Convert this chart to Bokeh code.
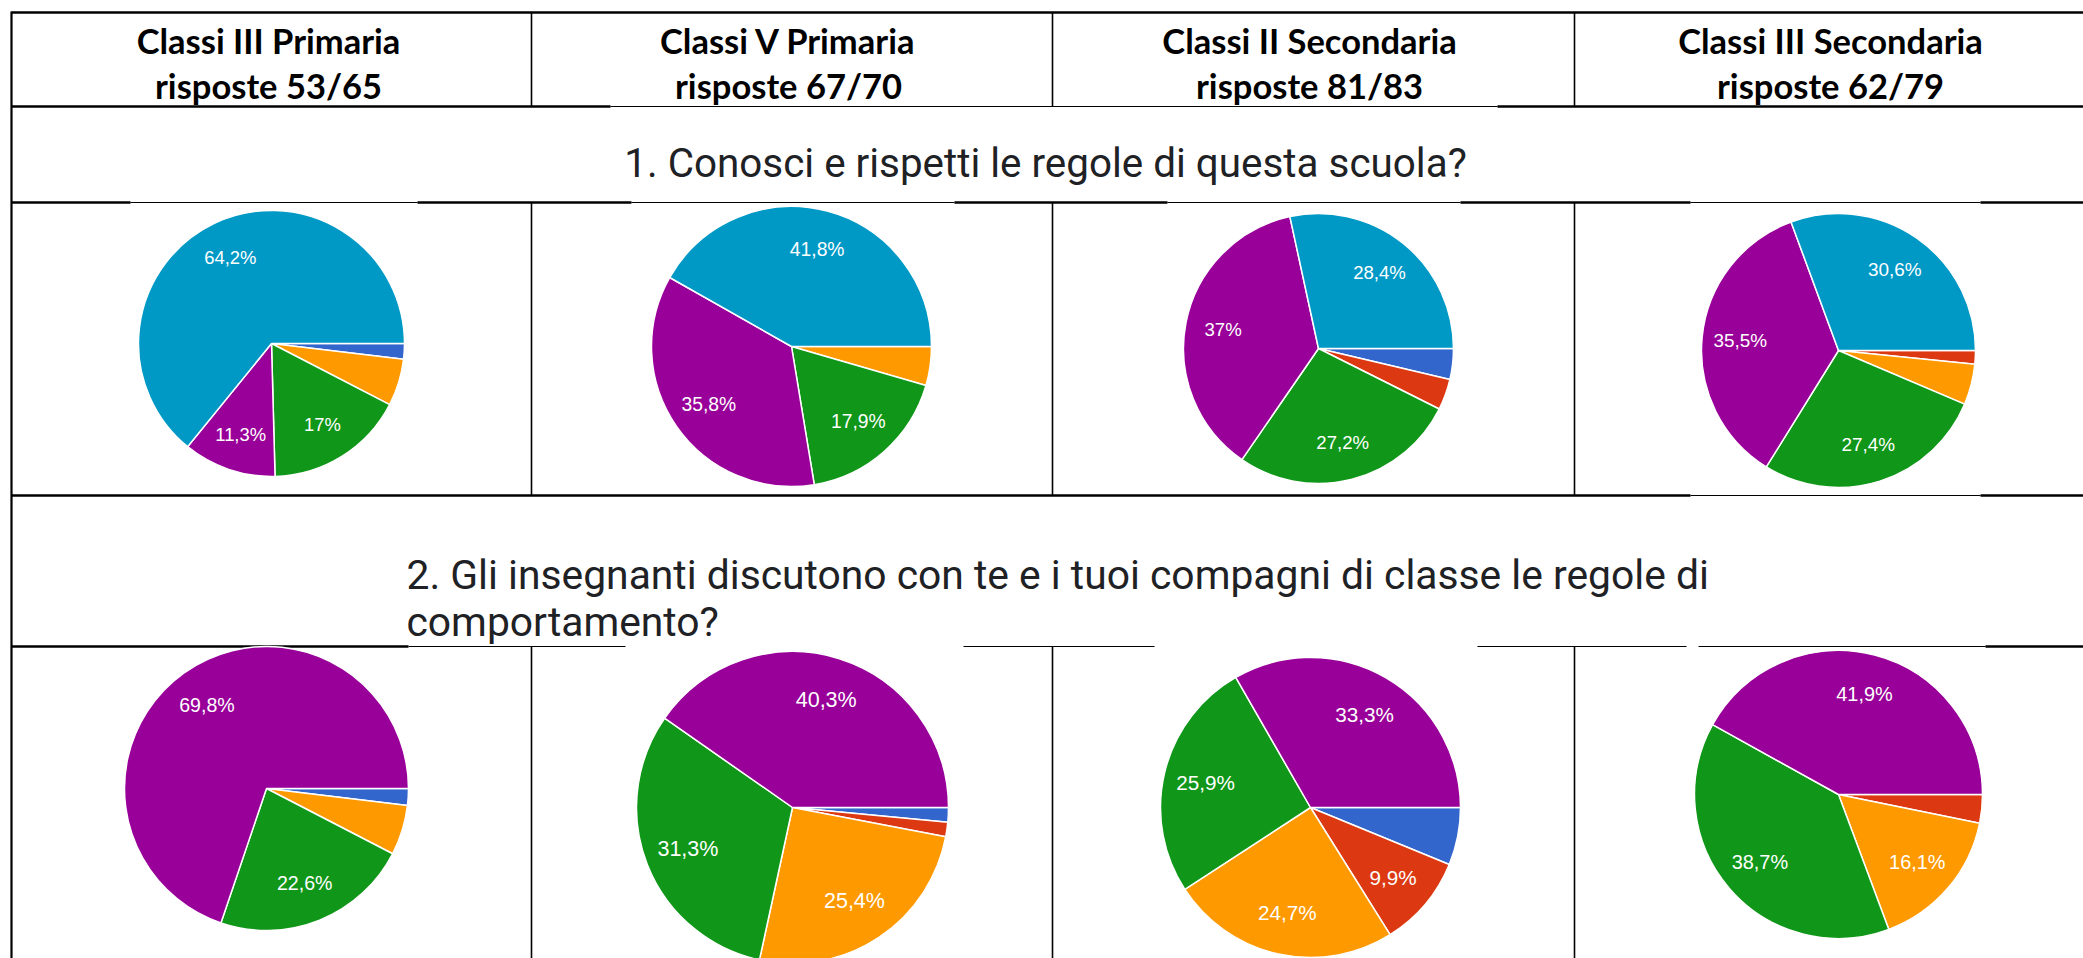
import math
from bokeh.plotting import figure
from bokeh.models import Range1d, ColumnDataSource
from bokeh.embed import file_html
from bokeh.resources import INLINE
from bokeh.core.properties import value

# ---------------- data ----------------
header_line1 = ["Classi III Primaria", "Classi V Primaria", "Classi II Secondaria", "Classi III Secondaria"]
header_line2 = ["risposte 53/65", "risposte 67/70", "risposte 81/83", "risposte 62/79"]
question1 = "1. Conosci e rispetti le regole di questa scuola?"
question2_lines = ["2. Gli insegnanti discutono con te e i tuoi compagni di classe le regole di",
                   "comportamento?"]

colors_q1 = ["#3366cc", "#dc3912", "#ff9900", "#109618", "#990099", "#0099c6"]
colors_q2 = ["#3366cc", "#dc3912", "#ff9900", "#109618", "#990099"]

# percentages, slice order: blue, red, orange, green, purple, teal
q1_iii_primaria = [1.9, 0, 5.7, 17, 11.3, 64.2]
q1_v_primaria = [0, 0, 4.5, 17.9, 35.8, 41.8]
q1_ii_secondaria = [3.7, 3.7, 0, 27.2, 37, 28.4]
q1_iii_secondaria = [0, 1.6, 4.8, 27.4, 35.5, 30.6]

# percentages, slice order: blue, red, orange, green, purple
q2_iii_primaria = [1.9, 0, 5.7, 22.6, 69.8]
q2_v_primaria = [1.5, 1.5, 25.4, 31.3, 40.3]
q2_ii_secondaria = [6.2, 9.9, 24.7, 25.9, 33.3]
q2_iii_secondaria = [0, 3.2, 16.1, 38.7, 41.9]

LABEL_MIN = 8.0  # slices smaller than this get no label

# ---------------- layout (screen pixels) ----------------
W, H = 2083, 958
def Y(sy):
    return H - sy

p = figure(width=W, height=H, output_backend="svg", toolbar_location=None,
           x_range=Range1d(0, W), y_range=Range1d(0, H),
           x_axis_location=None, y_axis_location=None, min_border=0)
p.outline_line_color = None
p.grid.visible = False
p.background_fill_color = "white"
p.border_fill_color = "white"

THICK, THIN = 2.6, 1.2
h_segs = [
    (12, 11, 2090, THICK),
    (106, 11, 610, THICK), (106, 610, 1497, THIN), (106, 1497, 2090, THICK),
    (202, 11, 130, THICK), (202, 130, 417, THIN), (202, 417, 631, THICK), (202, 631, 954, THIN),
    (202, 954, 1167, THICK), (202, 1167, 1460, THIN), (202, 1460, 1690, THICK), (202, 1690, 1980, THIN),
    (202, 1980, 2090, THICK),
    (495, 11, 1690, THICK), (495, 1690, 1980, THIN), (495, 1980, 2090, THICK),
    (646, 11, 408, THICK), (646, 408, 625, THIN), (646, 963, 1154, THIN), (646, 1477, 1686, THIN),
    (646, 1698, 1985, THIN), (646, 1985, 2090, THICK),
]
seg = dict(x0=[], y0=[], x1=[], y1=[], w=[])
for yy, xa, xb, w in h_segs:
    seg["x0"].append(xa); seg["x1"].append(xb)
    seg["y0"].append(Y(yy)); seg["y1"].append(Y(yy)); seg["w"].append(w)
# left border
seg["x0"].append(11); seg["x1"].append(11); seg["y0"].append(Y(11)); seg["y1"].append(Y(965)); seg["w"].append(2.2)
for xd in [531, 1052, 1574]:
    for ya, yb in [(12, 106), (202, 495), (646, 965)]:
        seg["x0"].append(xd); seg["x1"].append(xd)
        seg["y0"].append(Y(ya)); seg["y1"].append(Y(yb)); seg["w"].append(1.6)
p.segment(x0="x0", y0="y0", x1="x1", y1="y1", line_width="w", line_color="black",
          source=ColumnDataSource(seg))

# headers
hx = [268, 788, 1309, 1830]
p.text(x=hx, y=[Y(40)] * 4, text=header_line1, text_align="center", text_baseline="alphabetic",
       text_font=value("Lato"), text_font_style="bold", text_font_size="34.5px", text_color="black")
p.text(x=hx, y=[Y(85)] * 4, text=header_line2, text_align="center", text_baseline="alphabetic",
       text_font=value("Lato"), text_font_style="bold", text_font_size="34.5px", text_color="black")

# questions
p.text(x=[1045], y=[Y(163)], text=[question1], text_align="center", text_baseline="alphabetic",
       text_font=value("Roboto"), text_font_size="40.4px", text_color="#202124")
p.text(x=[406, 406], y=[Y(574), Y(621)], text=question2_lines, text_align="left",
       text_baseline="alphabetic", text_font=value("Roboto"), text_font_size="40.8px",
       text_color="#202124")

# pies
pies = [
    (q1_iii_primaria, colors_q1, 271, 343, 133),
    (q1_v_primaria, colors_q1, 791, 346, 140),
    (q1_ii_secondaria, colors_q1, 1318, 348, 135),
    (q1_iii_secondaria, colors_q1, 1838, 350, 137),
    (q2_iii_primaria, colors_q2, 266, 788, 142),
    (q2_v_primaria, colors_q2, 792, 807, 156),
    (q2_ii_secondaria, colors_q2, 1310, 807, 150),
    (q2_iii_secondaria, colors_q2, 1838, 794, 144),
]

def fmt(v):
    if abs(v - round(v)) < 1e-9:
        return "%d%%" % round(v)
    return ("%.1f%%" % v).replace(".", ",")

wd = dict(x=[], y=[], r=[], sa=[], ea=[], c=[])
lb = dict(x=[], y=[], t=[], fs=[])
for vals, cols, cx, cy, r in pies:
    tot = float(sum(vals))
    c0 = 0.0
    for v, col in zip(vals, cols):
        if v <= 0:
            continue
        c1 = c0 + v / tot
        wd["x"].append(cx); wd["y"].append(Y(cy)); wd["r"].append(r)
        wd["sa"].append(-2 * math.pi * c1); wd["ea"].append(-2 * math.pi * c0); wd["c"].append(col)
        if v >= LABEL_MIN:
            th = -2 * math.pi * (c0 + c1) / 2
            lb["x"].append(cx + 0.72 * r * math.cos(th))
            lb["y"].append(Y(cy) + 0.72 * r * math.sin(th))
            lb["t"].append(fmt(v))
            lb["fs"].append("%.1fpx" % (0.138 * r))
        c0 = c1

p.wedge(x="x", y="y", radius="r", start_angle="sa", end_angle="ea", fill_color="c",
        line_color="white", line_width=1.5, source=ColumnDataSource(wd))
p.text(x="x", y="y", text="t", text_font_size="fs", text_align="center", text_baseline="middle",
       text_color="white", text_font=value("Liberation Sans"), source=ColumnDataSource(lb))

open("out.html", "w").write(file_html(p, INLINE))
